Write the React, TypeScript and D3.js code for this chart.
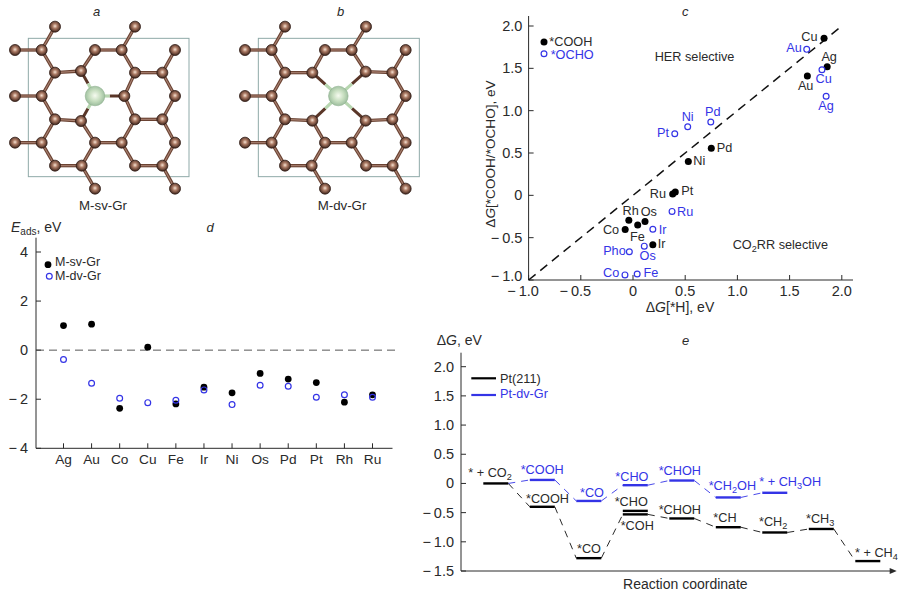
import React from 'react';
import * as d3 from 'd3';

const BLUE = '#3434e6';
const INK = '#2a2a2a';
const FONT = '"Liberation Sans", Arial, sans-serif';

// ---------- panel c ----------
const cNames = ['Cu', 'Ag', 'Au', 'Pd', 'Ni', 'Pt', 'Ru', 'Rh', 'Os', 'Fe', 'Co', 'Ir'];
const cHBlack = [1.83, 1.86, 1.67, 0.75, 0.53, 0.405, 0.38, -0.04, 0.115, 0.045, -0.075, 0.19];
const cGBlack = [1.854, 1.52, 1.41, 0.555, 0.4, 0.04, 0.015, -0.295, -0.31, -0.35, -0.405, -0.585];
const cBlueNames = ['Au', 'Cu', 'Ag', 'Pd', 'Ni', 'Pt', 'Ru', 'Ir', 'Os', 'Pho', 'Fe', 'Co'];
const cHBlue = [1.664, 1.81, 1.85, 0.745, 0.524, 0.4, 0.374, 0.19, 0.108, -0.035, 0.04, -0.077];
const cGBlue = [1.724, 1.483, 1.17, 0.866, 0.81, 0.727, -0.19, -0.4, -0.6, -0.666, -0.93, -0.94];
const cTicks = [-1, -0.5, 0, 0.5, 1, 1.5, 2];
const cDiagonal = [-1, 1.97];
// label placement: dx, dy, anchor
const cBlackPlace: [number, number, string][] = [
  [-6.5, 2.5, 'end'], [2, -5.5, 'middle'], [-1.7, 14, 'middle'], [5.5, 4, 'start'], [5, 4, 'start'], [6, 3, 'start'],
  [-6.7, 3.7, 'end'], [-6.3, -5.6, 'start'], [-4.3, -5.7, 'start'], [-7.7, 15.7, 'start'], [-6, 4.6, 'end'], [5, 3.6, 'start'],
];
const cBluePlace: [number, number, string][] = [
  [-5, 2.4, 'end'], [1.7, 13.6, 'middle'], [0, 14, 'middle'], [2, -6, 'middle'], [0, -6, 'middle'], [-5.7, 3.6, 'end'],
  [5, 4.7, 'start'], [6, 4.7, 'start'], [3.4, 14, 'middle'], [-3.6, 3.6, 'end'], [6.4, 3, 'start'], [-5.7, 2, 'end'],
];

// ---------- panel d ----------
const dMetals = ['Ag', 'Au', 'Co', 'Cu', 'Fe', 'Ir', 'Ni', 'Os', 'Pd', 'Pt', 'Rh', 'Ru'];
const dSv = [1.0, 1.06, -2.37, 0.12, -2.19, -1.51, -1.74, -0.95, -1.18, -1.32, -2.12, -1.82];
const dDv = [-0.38, -1.35, -1.96, -2.14, -2.04, -1.62, -2.22, -1.43, -1.47, -1.92, -1.82, -1.92];
const dTicks = [-4, -2, 0, 2, 4];

// ---------- panel e ----------
const ePtStep = [0, 1, 2, 3, 3, 4, 5, 6, 7, 8];
const ePtG = [0, -0.4, -1.28, -0.47, -0.53, -0.6, -0.75, -0.84, -0.78, -1.33];
const eDvStep = [1, 2, 3, 4, 5, 6];
const eDvG = [0.06, -0.3, -0.03, 0.05, -0.24, -0.16];
const eTicks = [-1.5, -1, -0.5, 0, 0.5, 1, 1.5, 2];
const ePtLinks = [[0, 1], [1, 2], [2, 4], [4, 5], [5, 6], [6, 7], [7, 8], [8, 9]];
const eLabelsBlack: [string, number, number][] = [
  ['* + CO~2~', 468.3, 476.7], ['*COOH', 526, 503.3], ['*CO', 577, 553.3], ['*CHO', 614.7, 505.7], ['*COH', 620.7, 530],
  ['*CHOH', 658.7, 514], ['*CH', 713.3, 522.3], ['*CH~2~', 759, 526], ['*CH~3~', 806, 523.3], ['* + CH~4~', 855, 556.7],
];
const eLabelsBlue: [string, number, number][] = [
  ['*COOH', 520.7, 474], ['*CO', 580, 496.7], ['*CHO', 615.3, 481.3], ['*CHOH', 658.7, 475.3], ['*CH~2~OH', 708.7, 490], ['* + CH~3~OH', 759.3, 486],
];

// ---------- panels a, b: atom positions in lattice units ----------
type Bond = [number, number, number, number];
const aAtoms = [[165,80],[405,80],[45,150],[125,150],[285,150],[365,150],[525,150],[165,218],[243,213],[405,218],[487,218],[45,288],[125,288],[373,288],[525,288],[165,358],[243,363],[405,358],[487,358],[45,428],[125,428],[285,428],[365,428],[525,428],[165,497],[245,497],[405,497],[487,497],[285,566],[525,566]];
const aBonds: Bond[] = [[165,80,125,150],[405,80,365,150],[45,150,125,150],[125,150,165,218],[285,150,365,150],[285,150,243,213],[365,150,405,218],[525,150,487,218],[165,218,243,213],[405,218,487,218],[165,218,125,288],[405,218,373,288],[487,218,525,288],[45,288,125,288],[125,288,165,358],[373,288,405,358],[525,288,487,358],[165,358,243,363],[405,358,487,358],[165,358,125,428],[243,363,285,428],[405,358,365,428],[487,358,525,428],[45,428,125,428],[285,428,365,428],[125,428,165,497],[285,428,245,497],[365,428,405,497],[525,428,487,497],[165,497,245,497],[405,497,487,497],[245,497,285,566],[487,497,525,566]];
const aMetal = [285, 288];
const aLigands = [[243,213],[373,288],[243,363]];
const aFrame = [85, 115, 567, 530];
const bAtoms = [[855,80],[1098,80],[735,150],[815,150],[975,150],[1055,150],[1217,150],[855,218],[937,218],[1097,215],[1177,218],[735,288],[815,288],[1217,288],[855,358],[937,362],[1097,362],[1177,358],[735,428],[815,428],[975,428],[1055,428],[1217,428],[855,497],[935,497],[1098,497],[1178,497],[975,566],[1217,566]];
const bBonds: Bond[] = [[855,80,815,150],[1098,80,1055,150],[735,150,815,150],[815,150,855,218],[975,150,1055,150],[975,150,937,218],[1055,150,1097,215],[1217,150,1177,218],[855,218,937,218],[1097,215,1177,218],[855,218,815,288],[1177,218,1217,288],[735,288,815,288],[815,288,855,358],[1217,288,1177,358],[855,358,937,362],[1097,362,1177,358],[855,358,815,428],[937,362,975,428],[1097,362,1055,428],[1177,358,1217,428],[735,428,815,428],[975,428,1055,428],[815,428,855,497],[975,428,935,497],[1055,428,1098,497],[1217,428,1178,497],[855,497,935,497],[1098,497,1178,497],[935,497,975,566],[1178,497,1217,566]];
const bMetal = [1015, 288];
const bLigands = [[937,218],[1097,215],[937,362],[1097,362]];
const bFrame = [775, 115, 1258, 530];

const lat = d3.scaleLinear().domain([0, 1320]).range([0, 440]);

// scales
const cx = d3.scaleLinear().domain([-1, 2]).range([528.6, 841.8]);
const cy = d3.scaleLinear().domain([-1, 2]).range([280, 26]);
const dx = d3.scalePoint<string>().domain(dMetals).range([63.5, 372.5]);
const dy = d3.scaleLinear().domain([-4, 4]).range([448.3, 252]);
const ex = d3.scaleLinear().domain([0, 8]).range([495.8, 867.8]);
const ey = d3.scaleLinear().domain([-1.5, 2]).range([571, 366.7]);
const eHalf = 12.5;

const MINUS = '\u2212\u2009';
const fmtC = (v: number) => (v === 0 ? '0' : (v < 0 ? MINUS : '') + Math.abs(v).toFixed(1));
const fmtD = (v: number) => (v < 0 ? MINUS : '') + Math.abs(v);

function Rich({ t, x, y, fill = INK, size = 12.7, anchor = 'start' }: any) {
  const parts = t.split('~');
  return (
    <text x={x} y={y} fill={fill} fontSize={size} textAnchor={anchor}>
      {parts.map((p: string, i: number) =>
        i % 2 ? (
          <tspan key={i} dy={3} fontSize={size * 0.72}>{p}</tspan>
        ) : (
          <tspan key={i} dy={i ? -3 : 0}>{p}</tspan>
        )
      )}
    </text>
  );
}

function Molecule({ atoms, bonds, metal, ligands, frame, grad }: any) {
  const s = lat;
  return (
    <g>
      <rect x={s(frame[0])} y={s(frame[1])} width={s(frame[2]) - s(frame[0])} height={s(frame[3]) - s(frame[1])} fill="none" stroke="#8fa9a8" strokeWidth={1} />
      {bonds.map((b: Bond, i: number) => (
        <g key={i}>
          <line x1={s(b[0])} y1={s(b[1])} x2={s(b[2])} y2={s(b[3])} stroke="#6a4232" strokeWidth={3.3} />
          <line x1={s(b[0])} y1={s(b[1])} x2={s(b[2])} y2={s(b[3])} stroke="#a98272" strokeWidth={1.1} />
        </g>
      ))}
      {ligands.map((l: number[], i: number) => {
        const mx = (l[0] + metal[0]) / 2;
        const my = (l[1] + metal[1]) / 2;
        return (
          <g key={i}>
            <line x1={s(l[0])} y1={s(l[1])} x2={s(mx)} y2={s(my)} stroke="#5a3628" strokeWidth={3} />
            <line x1={s(mx)} y1={s(my)} x2={s(metal[0])} y2={s(metal[1])} stroke="#b7d6b0" strokeWidth={3.2} />
          </g>
        );
      })}
      {atoms.map((a: number[], i: number) => (
        <circle key={i} cx={s(a[0])} cy={s(a[1])} r={5.5} fill={`url(#${grad})`} stroke="#2e1a14" strokeWidth={0.8} />
      ))}
      <circle cx={s(metal[0])} cy={s(metal[1])} r={9.8} fill="url(#metal)" stroke="#8fb08f" strokeWidth={0.6} />
    </g>
  );
}

export default function App() {
  const line = d3.line();
  return (
    <svg width={900} height={594} viewBox="0 0 900 594" style={{ position: 'absolute', left: 0, top: 0, background: '#fff' }} fontFamily={FONT}>
      <defs>
        <radialGradient id="carbon" cx="50%" cy="45%" r="55%">
          <stop offset="0%" stopColor="#f6e2d2" />
          <stop offset="40%" stopColor="#ab7a64" />
          <stop offset="100%" stopColor="#3d231a" />
        </radialGradient>
        <radialGradient id="metal" cx="50%" cy="48%" r="55%">
          <stop offset="0%" stopColor="#f6fbf0" />
          <stop offset="55%" stopColor="#c4dcbd" />
          <stop offset="100%" stopColor="#97b99a" />
        </radialGradient>
      </defs>

      {/* a, b */}
      <text x={96.7} y={15.5} fontSize={13} fontStyle="italic" textAnchor="middle" fill={INK}>a</text>
      <text x={340.7} y={15.5} fontSize={13} fontStyle="italic" textAnchor="middle" fill={INK}>b</text>
      <Molecule atoms={aAtoms} bonds={aBonds} metal={aMetal} ligands={aLigands} frame={aFrame} grad="carbon" />
      <Molecule atoms={bAtoms} bonds={bBonds} metal={bMetal} ligands={bLigands} frame={bFrame} grad="carbon" />
      <text x={103} y={210} fontSize={13.3} textAnchor="middle" fill={INK}>M-sv-Gr</text>
      <text x={342} y={210} fontSize={13.3} textAnchor="middle" fill={INK}>M-dv-Gr</text>

      {/* c */}
      <text x={685.3} y={15.7} fontSize={13} fontStyle="italic" textAnchor="middle" fill={INK}>c</text>
      <g stroke={INK} strokeWidth={1} fill="none">
        <path d={`M${cx(-1)},16V${cy(-1)}H853`} />
        {cTicks.map((v) => <line key={'x' + v} x1={cx(v)} x2={cx(v)} y1={cy(-1)} y2={cy(-1) - 5} />)}
        {cTicks.map((v) => <line key={'y' + v} x1={cx(-1)} x2={cx(-1) + 5} y1={cy(v)} y2={cy(v)} />)}
      </g>
      <path d={line(cDiagonal.map((v) => [cx(v), cy(v)]) as [number, number][])!} stroke="#111" strokeWidth={1.5} strokeDasharray="9 6" fill="none" />
      {cTicks.map((v) => <text key={'xl' + v} x={cx(v) - (v < 0 ? 5.5 : 0)} y={296} fontSize={14.5} textAnchor="middle" fill={INK}>{fmtC(v)}</text>)}
      {cTicks.map((v) => <text key={'yl' + v} x={522.3} y={cy(v) + (v === -1 ? 1 : 5)} fontSize={14.5} textAnchor="end" fill={INK}>{fmtC(v)}</text>)}
      <text x={680} y={311.7} fontSize={14} textAnchor="middle" fill={INK}>{'\u0394'}<tspan fontStyle="italic">G</tspan>[*H], eV</text>
      <text transform="translate(495,154) rotate(-90)" fontSize={13.6} textAnchor="middle" fill={INK}>{'\u0394'}<tspan fontStyle="italic">G</tspan>[*COOH/*OCHO], eV</text>
      <text x={654.7} y={60.7} fontSize={12.7} fill={INK}>HER selective</text>
      <Rich t="CO~2~RR selective" x={732.7} y={249} />
      <circle cx={544} cy={42} r={3.5} fill="#000" />
      <circle cx={544} cy={53.7} r={2.9} fill="none" stroke={BLUE} strokeWidth={1.2} />
      <text x={549.3} y={45.7} fontSize={12.7} fill={INK}>*COOH</text>
      <text x={550.7} y={59} fontSize={12.7} fill={BLUE}>*OCHO</text>
      {cNames.map((n, i) => {
        const [ox, oy, an] = cBlackPlace[i];
        const px = cx(cHBlack[i]);
        const py = cy(cGBlack[i]);
        return (
          <g key={n}>
            <circle cx={px} cy={py} r={3.5} fill="#000" />
            <text x={px + ox} y={py + oy} fontSize={12.7} textAnchor={an} fill={INK}>{n}</text>
          </g>
        );
      })}
      {cBlueNames.map((n, i) => {
        const [ox, oy, an] = cBluePlace[i];
        const px = cx(cHBlue[i]);
        const py = cy(cGBlue[i]);
        return (
          <g key={n}>
            <circle cx={px} cy={py} r={2.9} fill="none" stroke={BLUE} strokeWidth={1.2} />
            <text x={px + ox} y={py + oy} fontSize={12.7} textAnchor={an} fill={BLUE}>{n}</text>
          </g>
        );
      })}

      {/* d */}
      <text x={210} y={232} fontSize={13} fontStyle="italic" textAnchor="middle" fill={INK}>d</text>
      <text x={11} y={232.3} fontSize={14} fill={INK}>
        <tspan fontStyle="italic">E</tspan><tspan fontSize={10} dy={3}>ads</tspan><tspan dy={-3}>, eV</tspan>
      </text>
      <g stroke={INK} strokeWidth={1} fill="none">
        <path d={`M36,237.7V${dy(-4)}H392.5`} />
        {dTicks.map((v) => <line key={v} x1={36} x2={41} y1={dy(v)} y2={dy(v)} />)}
        {dMetals.map((m) => <line key={m} x1={dx(m)} x2={dx(m)} y1={dy(-4)} y2={dy(-4) - 5} />)}
      </g>
      <line x1={36} x2={396} y1={dy(0)} y2={dy(0)} stroke="#444" strokeWidth={0.9} strokeDasharray="8 5" />
      {dTicks.map((v) => <text key={v} x={28} y={dy(v) + 5} fontSize={14.5} textAnchor="end" fill={INK}>{fmtD(v)}</text>)}
      {dMetals.map((m) => <text key={m} x={dx(m)} y={464.3} fontSize={13.7} textAnchor="middle" fill={INK}>{m}</text>)}
      {dMetals.map((m, i) => <circle key={m} cx={dx(m)} cy={dy(dSv[i])} r={3.4} fill="#000" />)}
      {dMetals.map((m, i) => <circle key={m} cx={dx(m)} cy={dy(dDv[i])} r={2.9} fill="none" stroke={BLUE} strokeWidth={1.2} />)}
      <circle cx={48} cy={264.7} r={3.4} fill="#000" />
      <circle cx={49.3} cy={276.3} r={2.9} fill="none" stroke={BLUE} strokeWidth={1.2} />
      <text x={55} y={266.3} fontSize={12.5} fill={INK}>M-sv-Gr</text>
      <text x={55} y={280.3} fontSize={12.5} fill={INK}>M-dv-Gr</text>

      {/* e */}
      <text x={685.7} y={345.3} fontSize={13} fontStyle="italic" textAnchor="middle" fill={INK}>e</text>
      <text x={436.7} y={345.3} fontSize={14} fill={INK}>{'\u0394'}<tspan fontStyle="italic">G</tspan>, eV</text>
      <g stroke={INK} strokeWidth={1} fill="none">
        <path d={`M461,352.7V${ey(-1.5)}H891`} />
        {eTicks.map((v) => <line key={v} x1={461} x2={466} y1={ey(v)} y2={ey(v)} />)}
      </g>
      <path d={`M896.7,${ey(-1.5)}l-7,-3v6z`} fill={INK} />
      {eTicks.map((v) => <text key={v} x={454} y={ey(v) + 5} fontSize={14.5} textAnchor="end" fill={INK}>{fmtC(v)}</text>)}
      <text x={685.3} y={588.7} fontSize={14} textAnchor="middle" fill={INK}>Reaction coordinate</text>
      {ePtLinks.map(([p, q]) => (
        <line key={p + '-' + q} x1={ex(ePtStep[p]) + eHalf} y1={ey(ePtG[p])} x2={ex(ePtStep[q]) - eHalf} y2={ey(ePtG[q])} stroke="#111" strokeWidth={0.9} strokeDasharray="7 6" />
      ))}
      <line x1={ex(0) + eHalf} y1={ey(0)} x2={ex(eDvStep[0]) - eHalf} y2={ey(eDvG[0])} stroke={BLUE} strokeWidth={0.9} strokeDasharray="7 6" />
      {eDvStep.slice(1).map((st, i) => (
        <line key={st} x1={ex(eDvStep[i]) + eHalf} y1={ey(eDvG[i])} x2={ex(st) - eHalf} y2={ey(eDvG[i + 1])} stroke={BLUE} strokeWidth={0.9} strokeDasharray="7 6" />
      ))}
      {ePtStep.map((st, i) => <line key={i} x1={ex(st) - eHalf} x2={ex(st) + eHalf} y1={ey(ePtG[i])} y2={ey(ePtG[i])} stroke="#000" strokeWidth={2.4} />)}
      {eDvStep.map((st, i) => <line key={i} x1={ex(st) - eHalf} x2={ex(st) + eHalf} y1={ey(eDvG[i])} y2={ey(eDvG[i])} stroke={BLUE} strokeWidth={2.4} />)}
      {eLabelsBlack.map(([t, x, y], i) => <Rich key={i} t={t} x={x} y={y} />)}
      {eLabelsBlue.map(([t, x, y], i) => <Rich key={i} t={t} x={x} y={y} fill={BLUE} />)}
      <line x1={471.3} x2={496} y1={378.3} y2={378.3} stroke="#000" strokeWidth={2.2} />
      <line x1={471.3} x2={496} y1={395} y2={395} stroke={BLUE} strokeWidth={2.2} />
      <text x={500} y={382.7} fontSize={12.7} fill={INK}>Pt(211)</text>
      <text x={500} y={398} fontSize={12.7} fill={BLUE}>Pt-dv-Gr</text>
    </svg>
  );
}
